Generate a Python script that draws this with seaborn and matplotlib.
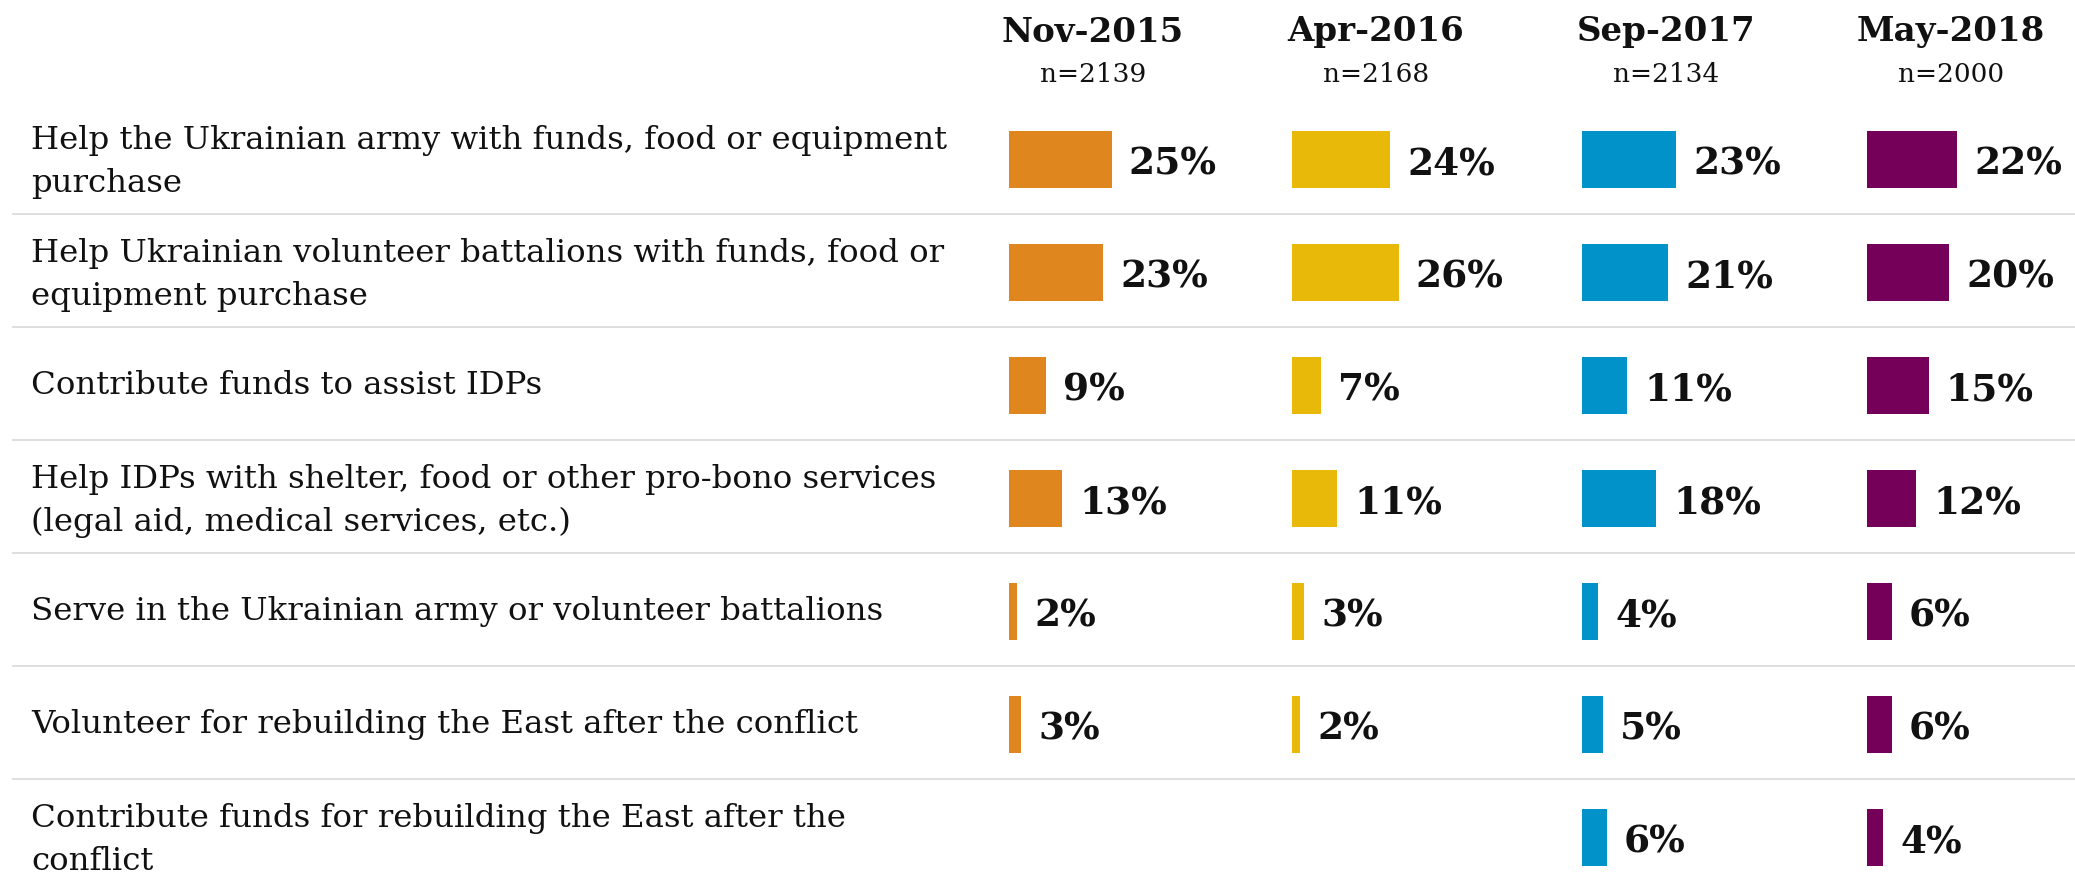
import numpy as np
import pandas as pd
import matplotlib
matplotlib.use("Agg")
import matplotlib.pyplot as plt
import seaborn as sns

# Survey waves and sample sizes
waves = ["Nov-2015", "Apr-2016", "Sep-2017", "May-2018"]
sample_sizes = ["n=2139", "n=2168", "n=2134", "n=2000"]

# Activities asked about
activities = [
    "Help the Ukrainian army with funds, food or equipment\npurchase",
    "Help Ukrainian volunteer battalions with funds, food or\nequipment purchase",
    "Contribute funds to assist IDPs",
    "Help IDPs with shelter, food or other pro-bono services\n(legal aid, medical services, etc.)",
    "Serve in the Ukrainian army or volunteer battalions",
    "Volunteer for rebuilding the East after the conflict",
    "Contribute funds for rebuilding the East after the\nconflict",
]

# Share of respondents (%) per wave; last item not asked before 2017
nov_2015 = [25, 23, 9, 13, 2, 3, np.nan]
apr_2016 = [24, 26, 7, 11, 3, 2, np.nan]
sep_2017 = [23, 21, 11, 18, 4, 5, 6]
may_2018 = [22, 20, 15, 12, 6, 6, 4]

colors = ["#E0861F", "#E9B90A", "#0092C8", "#74005A"]

df = pd.DataFrame({
    "activity": activities * 4,
    "item": list(range(len(activities))) * 4,
    "wave": np.repeat(waves, len(activities)),
    "value": nov_2015 + apr_2016 + sep_2017 + may_2018,
})

sns.set_theme(style="white")
plt.rcParams["font.family"] = ["DejaVu Serif"]

W, H = 2075, 876
fig = plt.figure(figsize=(W / 100, H / 100), dpi=100)

# Vertical mapping shared by every axes: one unit per row
pitch = 113.0
first_center = 159.5
y_top = -first_center / pitch
y_bottom = (H - first_center) / pitch

# Background axes for row labels and separators
bg = fig.add_axes([0, 0, 1, 1])
bg.set_xlim(0, W)
bg.set_ylim(y_bottom, y_top)
bg.axis("off")
for i, label in enumerate(activities):
    dy = 0.02 if "\n" in label else 0.0
    bg.text(31, i + dy, label, ha="left", va="center", fontsize=23.3,
            color="#111111", linespacing=1.5)
for i in range(len(activities) - 1):
    bg.plot([12, W], [i + 0.48, i + 0.48], color="#DCDCDC", lw=1.3,
            solid_capstyle="butt")

# One small bar panel per survey wave
px_per_pct = 4.1
lefts = [1009, 1292, 1582, 1867]
panel_w = 200
for wave, n_txt, color, left in zip(waves, sample_sizes, colors, lefts):
    ax = fig.add_axes([left / W, 0, panel_w / W, 1])
    sub = df[df["wave"] == wave]
    sns.barplot(data=sub, x="value", y="item", orient="h", order=list(range(len(activities))),
                color=color, width=0.5, errorbar=None, linewidth=0,
                saturation=1, ax=ax)
    ax.set_xlim(0, panel_w / px_per_pct)
    ax.set_ylim(y_bottom, y_top)
    ax.axis("off")
    for i, v in enumerate(sub["value"]):
        if np.isnan(v):
            continue
        ax.text(v + 4.2, i + 0.04, f"{int(v)}%", ha="left", va="center",
                fontsize=27, fontweight="bold", color="#111111", clip_on=False)
    cx = (left + 84) / W
    fig.text(cx, 1 - 32 / H, wave, ha="center", va="center", fontsize=24.5,
             fontweight="bold", color="#111111")
    fig.text(cx, 1 - 74 / H, n_txt, ha="center", va="center", fontsize=19,
             color="#111111")

fig.savefig("out.png", dpi=100, facecolor="white")
